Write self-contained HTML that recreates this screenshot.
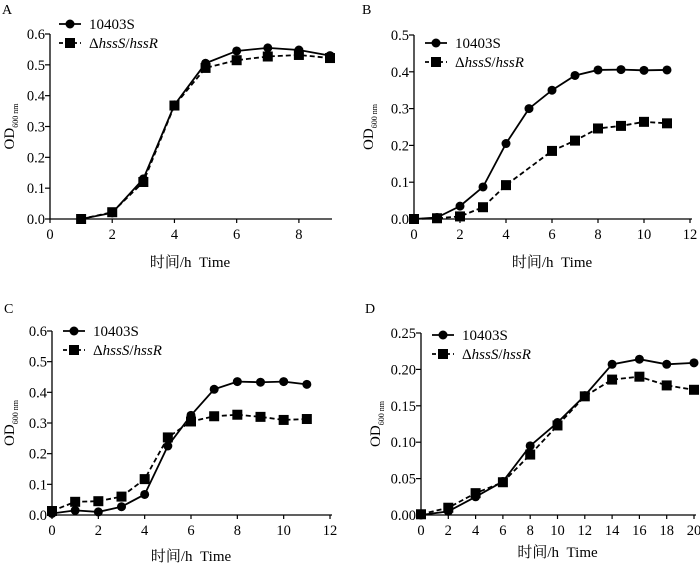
<!DOCTYPE html>
<html><head><meta charset="utf-8"><style>
body{margin:0;background:#fff}
svg{display:block;font-family:"Liberation Serif","Noto Serif CJK SC",serif}
</style></head><body>
<svg id="fig" width="700" height="563" viewBox="0 0 700 563" xmlns="http://www.w3.org/2000/svg"></svg>
<script>
// Panel A
const aX = [1,2,3,4,5,6,7,8,9];
const aWT = [0,0.02,0.13,0.37,0.505,0.545,0.555,0.548,0.53];
const aMut = [0,0.022,0.12,0.368,0.49,0.515,0.527,0.532,0.522];
const aXTicks = [0,2,4,6,8];
const aYTicks = ["0.0","0.1","0.2","0.3","0.4","0.5","0.6"];
// Panel B
const bX = [0,1,2,3,4,5,6,7,8,9,10,11];
const bWT = [0,0.004,0.035,0.087,0.205,0.30,0.35,0.39,0.405,0.406,0.404,0.405];
const bMutX = [0,1,2,3,4,6,7,8,9,10,11];
const bMut = [0,0.002,0.007,0.032,0.092,0.185,0.213,0.246,0.253,0.264,0.26];
const bXTicks = [0,2,4,6,8,10,12];
const bYTicks = ["0.0","0.1","0.2","0.3","0.4","0.5"];
// Panel C
const cX = [0,1,2,3,4,5,6,7,8,9,10,11];
const cWT = [0.005,0.015,0.01,0.027,0.067,0.225,0.325,0.41,0.435,0.433,0.435,0.426];
const cMut = [0.013,0.043,0.045,0.06,0.117,0.253,0.305,0.322,0.327,0.32,0.31,0.313];
const cXTicks = [0,2,4,6,8,10,12];
const cYTicks = ["0.0","0.1","0.2","0.3","0.4","0.5","0.6"];
// Panel D
const dX = [0,2,4,6,8,10,12,14,16,18,20];
const dWT = [0,0.005,0.025,0.046,0.095,0.127,0.164,0.207,0.214,0.207,0.209];
const dMut = [0.001,0.01,0.03,0.045,0.083,0.123,0.163,0.186,0.19,0.178,0.172];
const dXTicks = [0,2,4,6,8,10,12,14,16,18,20];
const dYTicks = ["0.00","0.05","0.10","0.15","0.20","0.25"];

const NS="http://www.w3.org/2000/svg";
const svg=document.getElementById('fig');
function mk(tag,attrs,parent){const e=document.createElementNS(NS,tag);for(const k in attrs)e.setAttribute(k,attrs[k]);(parent||svg).appendChild(e);return e;}

function panel(p){
  const g=mk('g',{});
  
  
  const sx=v=>p.x0+(v-p.xmin)/(p.xmax-p.xmin)*(p.x1-p.x0);
  const sy=v=>p.y0-(v)/(p.ymax)*(p.y0-p.y1);
  const lab=mk('text',{x:p.lx,y:p.ly,'font-size':14},g);lab.textContent=p.id;
  
  
  const ax=mk('path',{d:`M${p.x0},${p.y1}V${p.y0}H${p.x1+2}`,stroke:'#000','stroke-width':1.3,fill:'none'},g);
  
  
  p.xt.forEach(t=>{const x=sx(t);mk('line',{x1:x,x2:x,y1:p.y0,y2:p.y0+4,stroke:'#000','stroke-width':1.2},g);
    const tx=mk('text',{x:x,y:p.y0+20,'font-size':14.5,'text-anchor':'middle'},g);tx.textContent=t;
    
    });
  p.yt.forEach(t=>{const y=sy(parseFloat(t));mk('line',{x1:p.x0-5,x2:p.x0,y1:y,y2:y,stroke:'#000','stroke-width':1.2},g);
    const ty=mk('text',{x:p.x0-5,y:y+5,'font-size':14.5,'text-anchor':'end'},g);ty.textContent=t;
    
    });
  const yt=mk('text',{transform:`translate(${p.ytx},${(p.y0+p.y1)/2}) rotate(-90)`,'font-size':15,'text-anchor':'middle'},g);
  yt.innerHTML='OD<tspan font-size="8" dy="4">600 nm</tspan>';
  
  
  const xt=mk('text',{x:(p.x0+p.x1)/2,y:p.xty,'font-size':15,'text-anchor':'middle','xml:space':'preserve'},g);
  xt.textContent='时间/h\u00a0\u00a0Time';
  
  
  const line=(xs,ys,dash,name)=>{
    const pl=mk('polyline',{points:xs.map((x,i)=>sx(x)+','+sy(ys[i])).join(' '),fill:'none',stroke:'#000','stroke-width':1.8,'stroke-dasharray':dash?'5,3':'none'},g);
    
    
  };
  line(p.mx,p.mut,true,'mutant');
  line(p.wx,p.wt,false,'wild-type');
  p.mx.forEach((x,i)=>{const r=mk('rect',{x:sx(x)-5,y:sy(p.mut[i])-5,width:10,height:10,fill:'#000'},g);
    
    });
  p.wx.forEach((x,i)=>{const c=mk('circle',{cx:sx(x),cy:sy(p.wt[i]),r:4.5,fill:'#000'},g);
    
    });
  const L=mk('g',{},g);
  
  
  mk('line',{x1:p.gx,x2:p.gx+22,y1:p.gy,y2:p.gy,stroke:'#000','stroke-width':1.8},L);
  mk('circle',{cx:p.gx+11,cy:p.gy,r:4.5},L);
  const t1=mk('text',{x:p.gx+30,y:p.gy+5,'font-size':15},L);t1.textContent='10403S';
  
  
  mk('line',{x1:p.gx,x2:p.gx+22,y1:p.gy+19,y2:p.gy+19,stroke:'#000','stroke-width':1.8,'stroke-dasharray':'4,3'},L);
  mk('rect',{x:p.gx+6,y:p.gy+14,width:10,height:10},L);
  const t2=mk('text',{x:p.gx+30,y:p.gy+24,'font-size':15},L);
  t2.innerHTML='Δ<tspan font-style="italic">hssS</tspan>/<tspan font-style="italic">hssR</tspan>';
  
  
}

panel({id:'A',lx:2,ly:14,x0:50,x1:330,xmin:0,xmax:9,y0:219,y1:34,ymax:0.6,xt:aXTicks,yt:aYTicks,ytx:14,xty:267,
  wx:aX,wt:aWT,mx:aX,mut:aMut,gx:59,gy:24});
panel({id:'B',lx:362,ly:14,x0:414,x1:690,xmin:0,xmax:12,y0:219,y1:35,ymax:0.5,xt:bXTicks,yt:bYTicks,ytx:373,xty:267,
  wx:bX,wt:bWT,mx:bMutX,mut:bMut,gx:425,gy:43});
panel({id:'C',lx:4,ly:313,x0:52,x1:330,xmin:0,xmax:12,y0:515,y1:331,ymax:0.6,xt:cXTicks,yt:cYTicks,ytx:14,xty:561,
  wx:cX,wt:cWT,mx:cX,mut:cMut,gx:63,gy:331});
panel({id:'D',lx:365,ly:313,x0:421,x1:694,xmin:0,xmax:20,y0:515,y1:333,ymax:0.25,xt:dXTicks,yt:dYTicks,ytx:380,xty:557,
  wx:dX,wt:dWT,mx:dX,mut:dMut,gx:432,gy:335});
</script>
</body></html>
